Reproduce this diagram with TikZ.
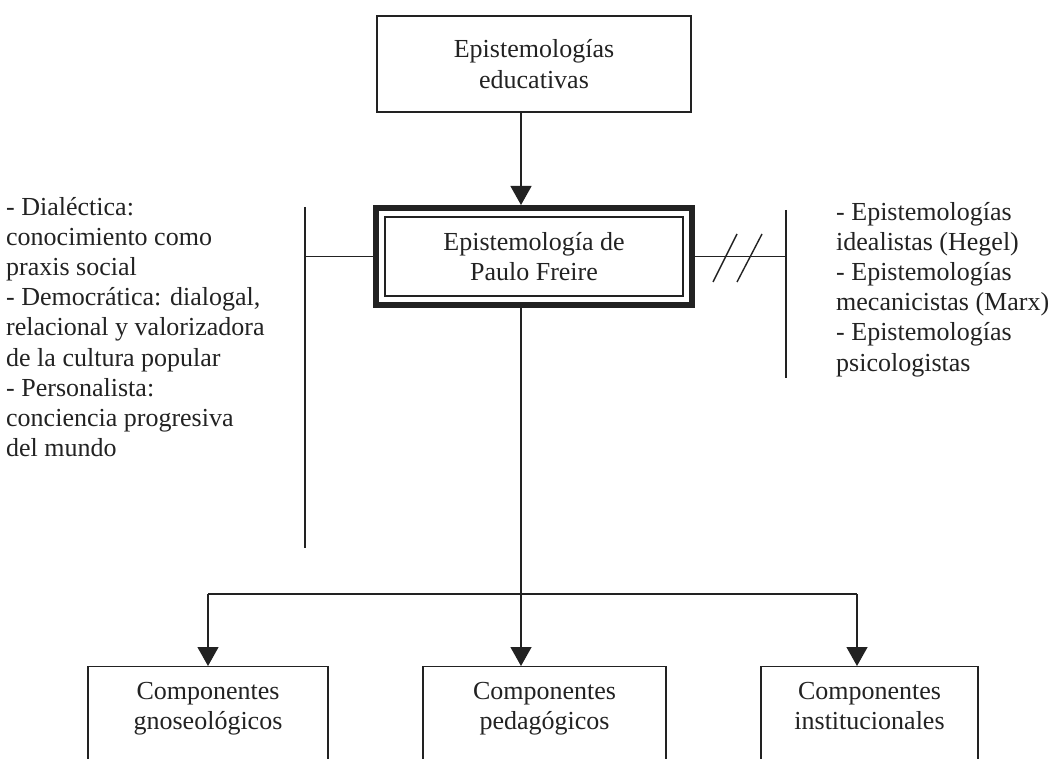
\documentclass[tikz,border=0pt]{standalone}
\usepackage{fontspec}
\setmainfont{Liberation Serif}
\usetikzlibrary{arrows.meta}
\definecolor{ink}{HTML}{222222}
\begin{document}
\begin{tikzpicture}[x=1pt,y=-1pt,
  font=\fontsize{26}{30.2}\selectfont,
  box/.style={draw=ink, line width=1.3pt, text=ink, align=center, inner sep=0pt},
  compbox/.style={box, anchor=north, minimum height=110pt},
  lbl/.style={anchor=north, align=center, text=ink, inner sep=0pt, yshift=-16pt},
  conn/.style={draw=ink, line width=1.3pt},
  arr/.style={conn, -{Triangle[width=21pt,length=19pt]}},
  txt/.style={align=left, inner sep=0pt, text=ink}]
\useasboundingbox (0,0) rectangle (1049,759);
\clip (0,0) rectangle (1049,759);

% top box and the framed central box
\node (edu) [box, minimum width=314pt, minimum height=96pt] at (534,64) {Epistemologías\\educativas};
\node (pf) [box, line width=6pt, minimum width=316pt, minimum height=97pt] at (534,256.5) {Epistemología de\\Paulo Freire};
\draw[ink, line width=1.2pt] ([shift={(12pt,-12pt)}]pf.north west) rectangle ([shift={(-12pt,12pt)}]pf.south east);

% lower boxes, open at the bottom edge
\node (gno) [compbox, minimum width=240pt, label={[lbl]north:Componentes\\gnoseológicos}] at (208,666) {};
\node (ped) [compbox, minimum width=243pt, label={[lbl]north:Componentes\\pedagógicos}] at (544.5,666) {};
\node (ins) [compbox, minimum width=217pt, label={[lbl]north:Componentes\\institucionales}] at (869.5,666) {};

% side notes (anchored on the baseline of their last line)
\node (pro) [txt, anchor=base west] at (6,456.6) {- Dialéctica:\\conocimiento como\\praxis social\\- Democrática: dialogal,\\relacional y valorizadora\\de la cultura popular\\- Personalista:\\conciencia progresiva\\del mundo};
\node (contra) [txt, anchor=base west] at (836,371) {- Epistemologías\\idealistas (Hegel)\\- Epistemologías\\mecanicistas (Marx)\\- Epistemologías\\psicologistas};

% junction points
\coordinate (stem) at (521,594);
\coordinate (bl) at (208,594);
\coordinate (br) at (857,594);
\coordinate (lbt) at (305,207);
\coordinate (lbb) at (305,548);
\coordinate (rbt) at (786,210);
\coordinate (rbb) at (786,378);

% connectors
\draw[arr] (edu.south -| stem) -- (pf.north -| stem);
\draw[conn] (pf.south -| stem) -- (stem);
\draw[conn] (bl) -- (br);
\draw[arr] (bl) -- (bl |- gno.north);
\draw[arr] (stem) -- (stem |- ped.north);
\draw[arr] (br) -- (br |- ins.north);

% side bars
\draw[conn] (lbt) -- (lbb);
\draw[conn] (pf.west) -- (pf.west -| lbt);
\draw[conn] (rbt) -- (rbb);
\draw[conn] (pf.east) -- (pf.east -| rbt);
\draw[conn, line width=1.4pt] (713,282) -- (737,234);
\draw[conn, line width=1.4pt] (737,282) -- (762,234);
\end{tikzpicture}
\end{document}
